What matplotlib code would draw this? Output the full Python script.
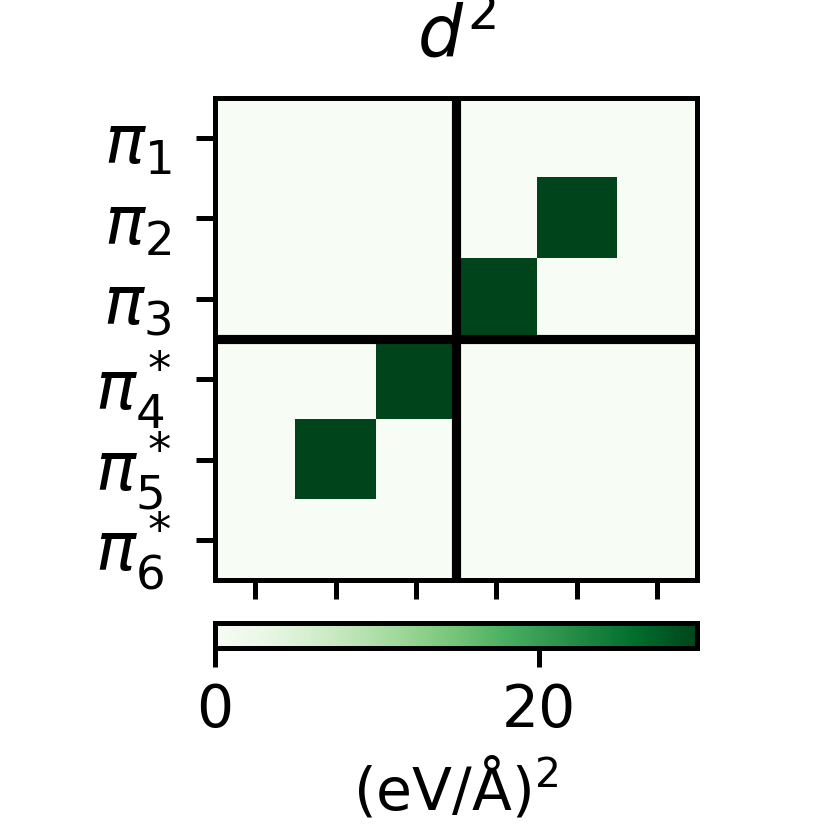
import numpy as np
import matplotlib
matplotlib.use("Agg")
import matplotlib.pyplot as plt

# orbital labels on the y axis
orbitals = [r"$\pi_1$", r"$\pi_2$", r"$\pi_3$", r"$\pi_4^*$", r"$\pi_5^*$", r"$\pi_6^*$"]

# squared transition dipoles, (eV/A)^2
row0 = [0, 0, 0, 0, 0, 0]
row1 = [0, 0, 0, 0, 29.8, 0]
row2 = [0, 0, 0, 29.8, 0, 0]
row3 = [0, 0, 29.8, 0, 0, 0]
row4 = [0, 29.8, 0, 0, 0, 0]
row5 = [0, 0, 0, 0, 0, 0]
d2 = np.array([row0, row1, row2, row3, row4, row5])

cbar_ticks = [0, 20]
n_occ = 3

plt.rcParams["font.size"] = 14
plt.rcParams["axes.linewidth"] = 1.2

fig = plt.figure(figsize=(830 / 300, 830 / 300), dpi=300)
ax = fig.add_axes([0.259, 0.301, 0.581, 0.581])
im = ax.imshow(d2, cmap="Greens", vmin=0, vmax=d2.max(), aspect="auto")

# occupied / virtual split
ax.axvline(n_occ - 0.5, color="k", lw=2.2)
ax.axhline(n_occ - 0.5, color="k", lw=2.2)

ax.set_yticks(range(len(orbitals)))
ax.set_yticklabels(orbitals, fontsize=16)
ax.set_xticks(range(len(orbitals)))
ax.set_xticklabels([])
ax.tick_params(length=4.5, width=1.2)
ax.tick_params(axis="y", pad=6)
ax.set_title(r"$d^2$", fontsize=17, pad=10)

cax = fig.add_axes([0.259, 0.219, 0.581, 0.031])
cb = fig.colorbar(im, cax=cax, orientation="horizontal", ticks=cbar_ticks)
cb.outline.set_linewidth(1.2)
cax.tick_params(length=4.5, width=1.2)
cb.set_label(r"(eV/Å)$^2$")

fig.savefig("out.png", dpi=300)
